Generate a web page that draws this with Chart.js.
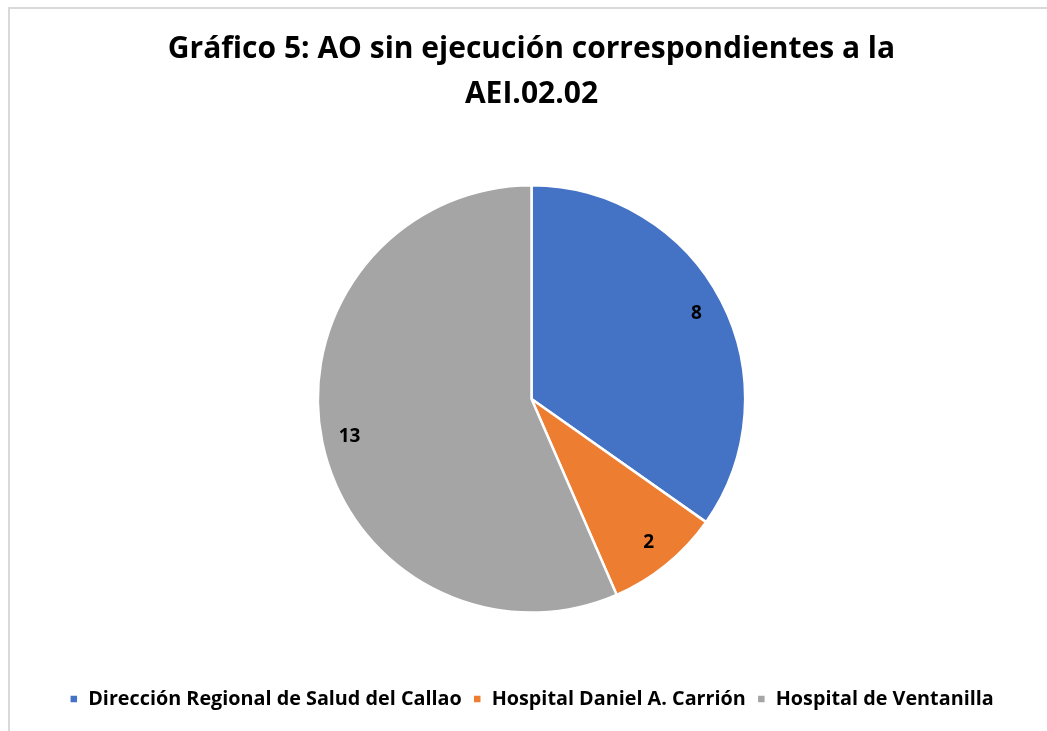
<!DOCTYPE html>
<html><head><meta charset="utf-8">
<script src="https://cdn.jsdelivr.net/npm/chart.js@4.4.0/dist/chart.umd.min.js"></script>
<style>
html,body{margin:0;padding:0;background:#fff;}
#frame{position:absolute;left:8px;top:7px;width:1060px;height:740px;border:2px solid #d9d9d9;box-sizing:border-box;}
#wrap{position:absolute;left:0;top:0;width:1047px;height:731px;}
</style></head>
<body>
<div id="frame"></div>
<div id="wrap"><canvas id="c" width="1047" height="731"></canvas></div>
<script>
const titleLines = ["Gráfico 5: AO sin ejecución correspondientes a la", "AEI.02.02"];
const categories = ["Dirección Regional de Salud del Callao", "Hospital Daniel A. Carrión", "Hospital de Ventanilla"];
const values = [8, 2, 13];
const colors = ["#4472C4", "#ED7D31", "#A5A5A5"];

const labelPlugin = {
  id: 'sliceLabels',
  afterDatasetsDraw(chart) {
    const ctx = chart.ctx;
    const meta = chart.getDatasetMeta(0);
    ctx.save();
    ctx.font = 'bold 19px "Open Sans"';
    ctx.fillStyle = '#000';
    ctx.textAlign = 'center';
    ctx.textBaseline = 'middle';
    meta.data.forEach((arc, i) => {
      const a = (arc.startAngle + arc.endAngle) / 2;
      const r = arc.outerRadius * 0.87;
      ctx.fillText(String(chart.data.datasets[0].data[i]), arc.x + Math.cos(a) * r, arc.y + Math.sin(a) * r);
    });
    ctx.restore();
  }
};

new Chart(document.getElementById('c'), {
  type: 'pie',
  data: {
    labels: categories,
    datasets: [{ data: values, backgroundColor: colors, borderColor: '#fff', borderWidth: 2.5 }]
  },
  options: {
    responsive: false,
    animation: false,
    layout: { padding: { top: 0, bottom: 12, left: 16, right: 0 } },
    plugins: {
      title: {
        display: true,
        text: titleLines,
        color: '#000',
        font: { family: 'Open Sans', size: 30, weight: 'bold', lineHeight: 1.5 },
        padding: { top: 27, bottom: 67 }
      },
      legend: {
        position: 'bottom',
        title: { display: true, text: ' ', font: { size: 12 }, padding: { top: 50, bottom: 0 } },
        labels: {
          color: '#000',
          font: { family: 'Open Sans', size: 19.8, weight: 'bold' },
          boxWidth: 9, boxHeight: 9, padding: 11
        }
      },
      tooltip: { enabled: false }
    }
  },
  plugins: [labelPlugin]
});
</script>
</body></html>
